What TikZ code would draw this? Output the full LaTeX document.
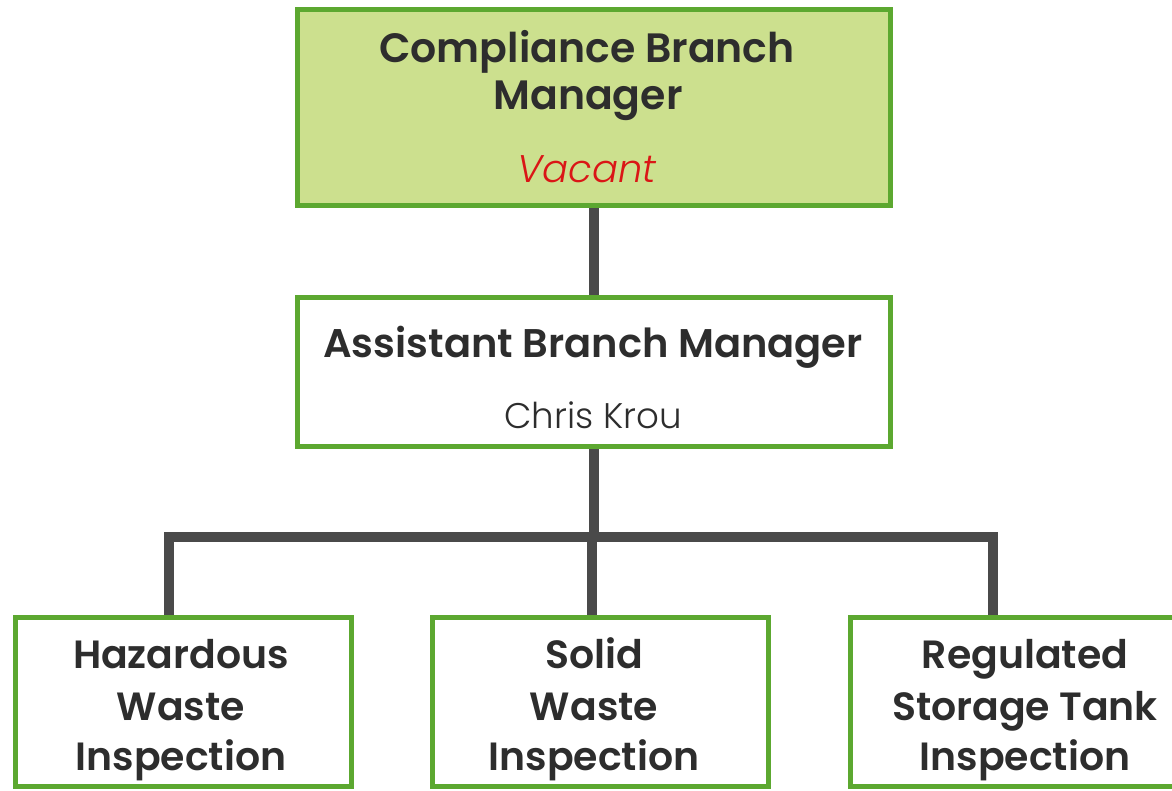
\documentclass[tikz,border=0pt]{standalone}
\usepackage{fontspec}
\setmainfont{Poppins}
\newfontfamily\hdfont{Poppins SemiBold}
\newfontfamily\ltfont{Poppins Light}
\newfontfamily\ltitfont{Poppins Light Italic}
\usetikzlibrary{backgrounds}
\definecolor{bordergreen}{RGB}{92,168,48}
\definecolor{topfill}{RGB}{204,224,142}
\definecolor{linegray}{RGB}{74,74,74}
\definecolor{txtdark}{RGB}{45,45,45}
\definecolor{vacred}{RGB}{218,22,22}
\begin{document}
\begin{tikzpicture}[x=1pt,y=-1pt,
  box/.style={draw=bordergreen, line width=5pt, fill=white, rectangle, inner sep=0pt},
  conn/.style={draw=linegray, line width=10pt, line join=miter},
  hd/.style={text=txtdark, font=\hdfont\fontsize{41}{48}\selectfont, inner sep=0pt, anchor=base},
  bh/.style={text=txtdark, font=\hdfont\fontsize{40}{48}\selectfont, inner sep=0pt, anchor=base},
  sm/.style={text=txtdark, font=\hdfont\fontsize{39.4}{46}\selectfont, inner sep=0pt, anchor=base},
  vac/.style={text=vacred, font=\ltitfont\fontsize{38.5}{44}\selectfont, inner sep=0pt, anchor=base},
  nm/.style={text=txtdark, font=\ltfont\fontsize{35.6}{44}\selectfont, inner sep=0pt, anchor=base}]
\useasboundingbox (0,0) rectangle (1172,791);

\node[box, fill=topfill, minimum width=593pt, minimum height=196pt] (mgr) at (593.5,108) {};
\node[box, minimum width=593pt, minimum height=148pt] (asst) at (593.5,372) {};
\node[box, minimum width=336pt, minimum height=169pt] (haz) at (183,701.5) {};
\node[box, minimum width=336pt, minimum height=169pt] (sol) at (600,701.5) {};
\node[box, minimum width=336pt, minimum height=169pt] (reg) at (1018,701.5) {};

\coordinate (busL) at (169,537);
\coordinate (busM) at (592,537);
\coordinate (busR) at (993,537);

\begin{scope}[on background layer]
\fill[white] (0,0) rectangle (1172,791);
\draw[conn] (mgr.south) -- (asst.north);
\draw[conn] (asst.south) -- (asst.south |- busM);
\draw[conn] (busL |- haz.north) -- (busL) -- (busR) -- (busR |- reg.north);
\draw[conn] (busM) -- (busM |- sol.north);
\end{scope}

\node[hd] (t1) at (587,63) {Compliance Branch};
\node[hd] (t2) at (588,110) {Manager};
\node[vac] (t3) at (587,183) {Vacant};
\node[bh] (t4) at (593,358) {Assistant Branch Manager};
\node[nm] (t5) at (593,428) {Chris Krou};

\node[sm] (h1) at (181,668) {Hazardous};
\node[sm] (h2) at (181,720) {Waste};
\node[sm] (h3) at (181,770) {Inspection};
\node[sm] (s1) at (594,668) {Solid};
\node[sm] (s2) at (594,720) {Waste};
\node[sm] (s3) at (594,770) {Inspection};
\node[sm] (r1) at (1025,668) {Regulated};
\node[sm] (r2) at (1025,720) {Storage Tank};
\node[sm] (r3) at (1025,770) {Inspection};
\end{tikzpicture}
\end{document}
